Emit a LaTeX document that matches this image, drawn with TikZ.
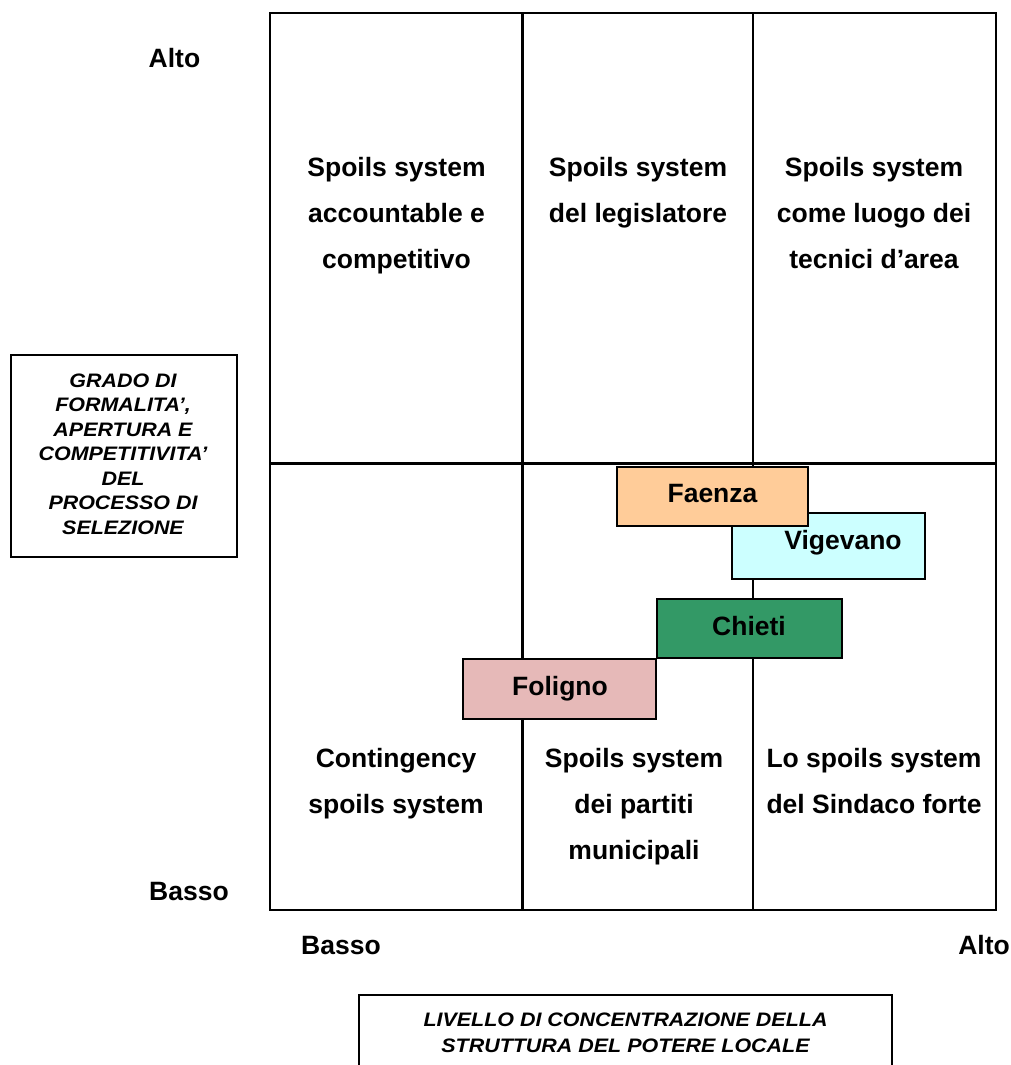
\documentclass[tikz,border=0pt]{standalone}
\usepackage{fontspec}
\setmainfont{Liberation Sans}
\newfontfamily\stretchfont[FakeStretch=1.1]{Liberation Sans}
\definecolor{faenzacol}{HTML}{FFCC99}
\definecolor{vigcol}{HTML}{CCFFFF}
\definecolor{chieticol}{HTML}{339966}
\definecolor{folcol}{HTML}{E6B9B8}
\begin{document}
\begin{tikzpicture}[x=1pt,y=-1pt,
  gridline/.style={line width=2.2pt, black},
  celltext/.style={font=\fontsize{26.5}{46}\selectfont\bfseries, align=center, anchor=north, inner sep=0pt},
  axistext/.style={font=\fontsize{26.5}{30}\selectfont\bfseries, anchor=base, inner sep=0pt},
  citybox/.style={draw=black, line width=2pt, inner sep=0pt},
  citytext/.style={font=\fontsize{26.5}{30}\selectfont\bfseries, anchor=base, inner sep=0pt},
  labelbox/.style={draw=black, line width=1.8pt, inner sep=0pt},
  labeltext/.style={font=\fontsize{19.5}{24.5}\selectfont\stretchfont\bfseries\itshape, align=center, inner sep=0pt}
]
\useasboundingbox (0,0) rectangle (1011,1065);
\clip (0,0) rectangle (1011,1065);

% grid
\draw[gridline] (270,13) rectangle (996,910);
\draw[gridline] (522.5,13) -- (522.5,910);
\draw[gridline] (753,13) -- (753,910);
\draw[gridline] (270,463.5) -- (996,463.5);

% quadrant texts
\node[celltext] (tl) at (396.5,157) {Spoils system\\accountable e\\competitivo};
\node[celltext] (tm) at (638,157) {Spoils system\\del legislatore};
\node[celltext] (tr) at (874,157) {Spoils system\\come luogo dei\\tecnici d’area};
\node[celltext] (bl) at (396,748) {Contingency\\spoils system};
\node[celltext] (bm) at (634,748) {Spoils system\\dei partiti\\municipali};
\node[celltext] (br) at (874,748) {Lo spoils system\\del Sindaco forte};

% axis labels
\node[axistext] (yhigh) at (174.5,67.5) {Alto};
\node[axistext] (ylow) at (189,900) {Basso};
\node[axistext] (xlow) at (341,954) {Basso};
\node[axistext] (xhigh) at (984,954) {Alto};

% city boxes
\node[citybox, fill=vigcol, minimum width=193.3pt, minimum height=66.3pt] (vigbox) at (828.35,545.85) {};
\node[citybox, fill=faenzacol, minimum width=191.3pt, minimum height=59pt] (faebox) at (712.35,496.2) {};
\node[citybox, fill=chieticol, minimum width=185.6pt, minimum height=58.7pt] (chibox) at (749.5,628.35) {};
\node[citybox, fill=folcol, minimum width=192.7pt, minimum height=60pt] (folbox) at (559.65,689) {};
\node[citytext] (vigtext) at (843,549) {Vigevano};
\node[citytext] (faetext) at (712.5,502.5) {Faenza};
\node[citytext] (chitext) at (749,635) {Chieti};
\node[citytext] (foltext) at (560,695) {Foligno};

% axis title boxes
\node[labelbox, minimum width=226pt, minimum height=202pt] (ybox) at (124,456) {};
\node[labeltext] (ytext) at (123,454) {GRADO DI\\FORMALITA’,\\APERTURA E\\COMPETITIVITA’\\DEL\\PROCESSO DI\\SELEZIONE};
\node[labelbox, minimum width=533pt, minimum height=100pt] (xbox) at (625.5,1045) {};
\node[labeltext, font=\fontsize{19.5}{26}\selectfont\stretchfont\bfseries\itshape] (xtext) at (625.5,1033) {LIVELLO DI CONCENTRAZIONE DELLA\\STRUTTURA DEL POTERE LOCALE};
\end{tikzpicture}
\end{document}
